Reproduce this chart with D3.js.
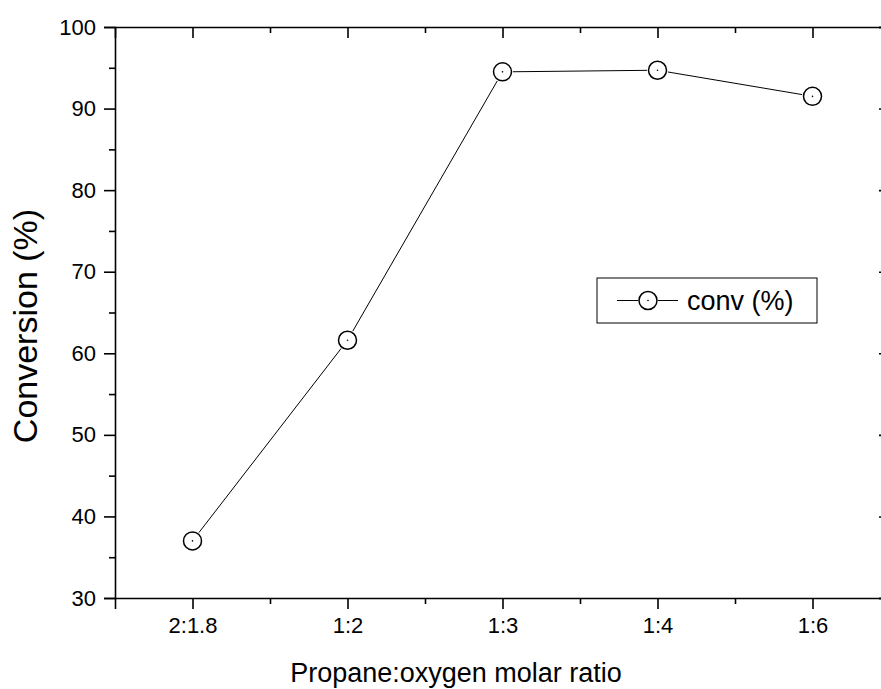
<!DOCTYPE html>
<html>
<head>
<meta charset="UTF-8">
<title>Conversion vs propane:oxygen ratio</title>
<script src="https://cdn.jsdelivr.net/npm/d3@7"></script>
<style>
  body { margin: 0; background: #fff; }
  text { font-family: Arial, "Liberation Sans", sans-serif; fill: #000; }
</style>
</head>
<body>
<script>
// data
var ratios = ["2:1.8", "1:2", "1:3", "1:4", "1:6"];
var conversion = [37.0, 61.6, 94.5, 94.7, 91.5];
var yTicks = [30, 40, 50, 60, 70, 80, 90, 100];
var yMinor = [35, 45, 55, 65, 75, 85, 95];

var width = 881, height = 689;
// frame runs a bit past the right edge of the picture, as in the original
var plotL = 115, plotR = 890, plotT = 27, plotB = 598;

var svg = d3.select("body").append("svg")
    .attr("width", width)
    .attr("height", height);

// categories sit at integer positions, half a step of padding each side
var x = d3.scaleLinear().domain([-0.5, ratios.length - 0.5]).range([plotL, plotR]);
var y = d3.scaleLinear().domain([30, 100]).range([plotB, plotT]);

var xMajor = d3.range(ratios.length);
var xMinor = d3.range(ratios.length - 1).map(function(i) { return i + 0.5; });

var axisW = 1.6;

// bottom axis
var gx = svg.append("g").attr("transform", "translate(0," + plotB + ")");
gx.call(d3.axisBottom(x).tickValues(xMajor).tickSize(11).tickPadding(8)
    .tickFormat(function(d) { return ratios[d]; }));
gx.append("g").call(d3.axisBottom(x).tickValues(xMinor).tickSize(6).tickFormat(""));

// top axis, ticks pointing in
var gt = svg.append("g").attr("transform", "translate(0," + plotT + ")");
gt.call(d3.axisTop(x).tickValues(xMajor).tickSize(-11).tickFormat(""));
gt.append("g").call(d3.axisTop(x).tickValues(xMinor).tickSize(-6).tickFormat(""));

// left axis
var gy = svg.append("g").attr("transform", "translate(" + plotL + ",0)");
gy.call(d3.axisLeft(y).tickValues(yTicks).tickSize(11).tickPadding(8));
gy.append("g").call(d3.axisLeft(y).tickValues(yMinor).tickSize(6).tickFormat(""));

// right axis, ticks pointing in
var gr = svg.append("g").attr("transform", "translate(" + plotR + ",0)");
gr.call(d3.axisRight(y).tickValues(yTicks).tickSize(-11).tickFormat(""));
gr.append("g").call(d3.axisRight(y).tickValues(yMinor).tickSize(-6).tickFormat(""));

// the inner minor axes repeat the frame line, drop it
[gx, gt, gy, gr].forEach(function(g) { g.selectAll("g > g .domain").remove(); });

svg.selectAll(".domain").attr("stroke", "#000").attr("stroke-width", axisW);
svg.selectAll(".tick line").attr("stroke", "#000").attr("stroke-width", axisW);
[gx, gy].forEach(function(g) {
    g.attr("font-size", 22).attr("font-family", "Arial, 'Liberation Sans', sans-serif");
});
svg.selectAll(".tick text").attr("fill", "#000");

// data line, broken at each marker
var r = 9;
var pts = conversion.map(function(v, i) { return [x(i), y(v)]; });
var segs = [];
for (var i = 0; i < pts.length - 1; i++) {
    var a = pts[i], b = pts[i + 1];
    var dx = b[0] - a[0], dy = b[1] - a[1];
    var len = Math.sqrt(dx * dx + dy * dy), gap = r + 1.5;
    segs.push([a[0] + dx * gap / len, a[1] + dy * gap / len,
               b[0] - dx * gap / len, b[1] - dy * gap / len]);
}
svg.append("g").selectAll("line").data(segs).enter().append("line")
    .attr("x1", function(d) { return d[0]; })
    .attr("y1", function(d) { return d[1]; })
    .attr("x2", function(d) { return d[2]; })
    .attr("y2", function(d) { return d[3]; })
    .attr("stroke", "#000")
    .attr("stroke-width", 1);

var marks = svg.append("g").selectAll("g").data(pts).enter().append("g")
    .attr("transform", function(d) { return "translate(" + d[0] + "," + d[1] + ")"; });
marks.append("circle").attr("r", r).attr("fill", "none")
    .attr("stroke", "#000").attr("stroke-width", 1.5);
marks.append("circle").attr("r", 0.8).attr("fill", "#000");

// legend
var lg = svg.append("g").attr("transform", "translate(597,278)");
lg.append("rect").attr("width", 220).attr("height", 45)
    .attr("fill", "#fff").attr("stroke", "#000").attr("stroke-width", 1);
lg.append("line").attr("x1", 20).attr("x2", 41).attr("y1", 22.5).attr("y2", 22.5)
    .attr("stroke", "#000").attr("stroke-width", 1);
lg.append("line").attr("x1", 61).attr("x2", 81).attr("y1", 22.5).attr("y2", 22.5)
    .attr("stroke", "#000").attr("stroke-width", 1);
lg.append("circle").attr("cx", 51).attr("cy", 22.5).attr("r", 9)
    .attr("fill", "none").attr("stroke", "#000").attr("stroke-width", 1.5);
lg.append("circle").attr("cx", 51).attr("cy", 22.5).attr("r", 0.8).attr("fill", "#000");
lg.append("text").attr("x", 90).attr("y", 32).style("font-size", "27px").text("conv (%)");

// axis titles
svg.append("text")
    .attr("x", 456).attr("y", 682)
    .attr("text-anchor", "middle").style("font-size", "27px")
    .text("Propane:oxygen molar ratio");
svg.append("text")
    .attr("transform", "translate(37,326) rotate(-90)")
    .attr("text-anchor", "middle").style("font-size", "34px")
    .text("Conversion (%)");
</script>
</body>
</html>
